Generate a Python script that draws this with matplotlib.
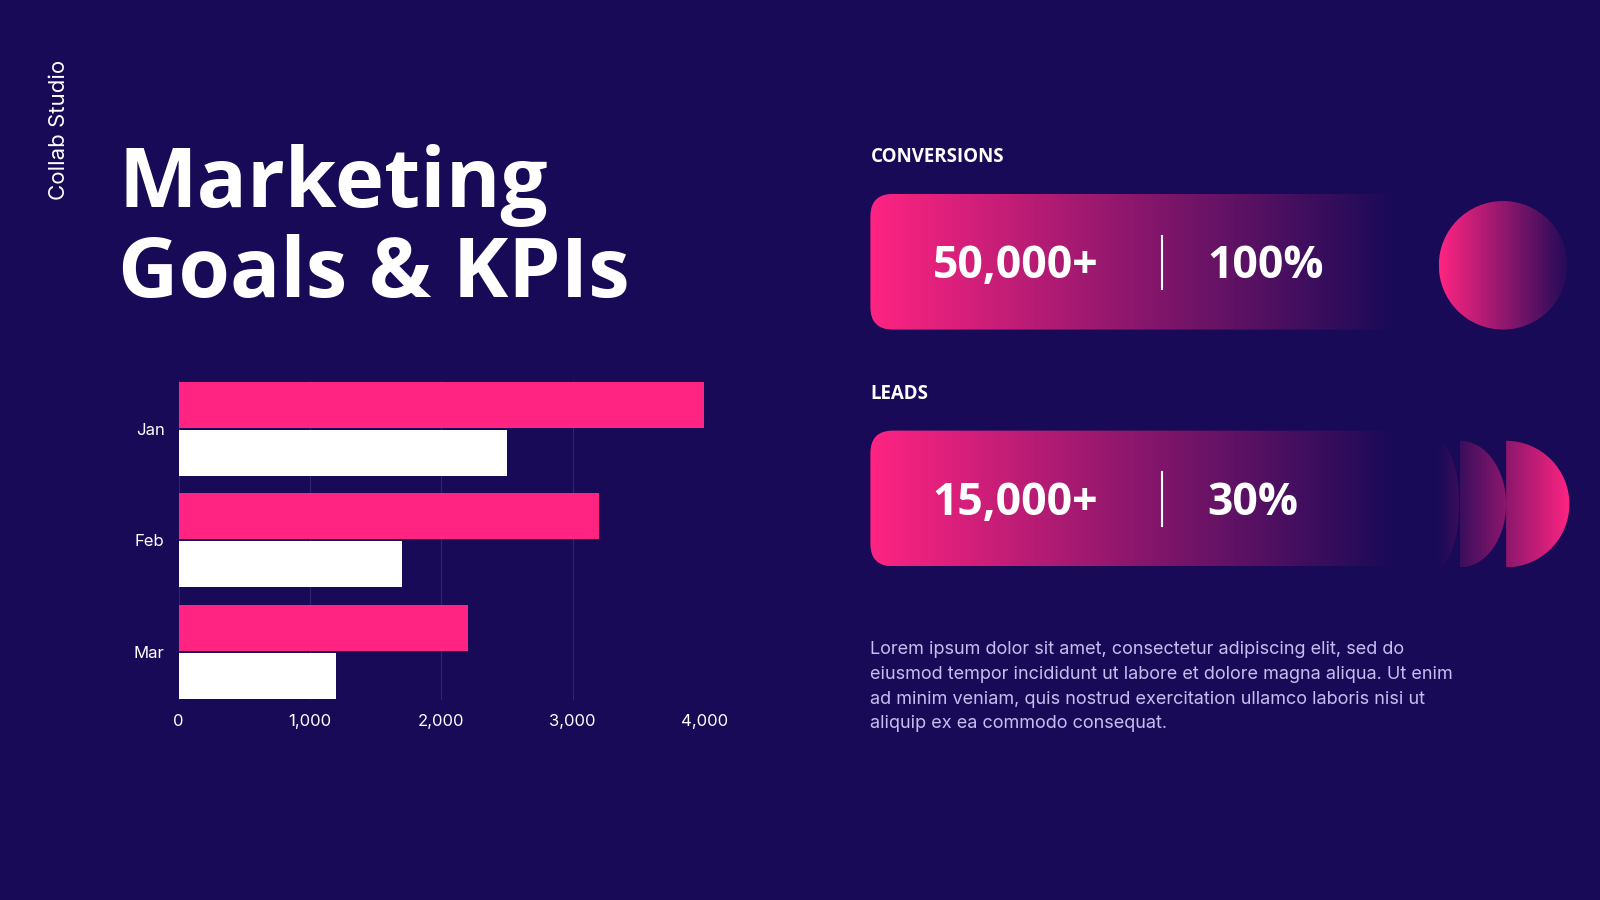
import matplotlib.pyplot as plt
import numpy as np
from matplotlib.patches import FancyBboxPatch, Circle, Wedge, Ellipse

BG = '#180a57'
PINK = '#ff2482'

months = ['Jan', 'Feb', 'Mar']
goal = [4000, 3200, 2200]
actual = [2500, 1700, 1200]
ticks = [0, 1000, 2000, 3000, 4000]
tick_labels = ['0', '1,000', '2,000', '3,000', '4,000']

kpi_titles = ['CONVERSIONS', 'LEADS']
kpi_values = ['50,000+', '15,000+']
kpi_pcts = ['100%', '30%']

body = ("Lorem ipsum dolor sit amet, consectetur adipiscing elit, sed do\n"
        "eiusmod tempor incididunt ut labore et dolore magna aliqua. Ut enim\n"
        "ad minim veniam, quis nostrud exercitation ullamco laboris nisi ut\n"
        "aliquip ex ea commodo consequat.")

W, H = 1568, 882
fig = plt.figure(figsize=(16, 9), dpi=100, facecolor=BG)
bg = fig.add_axes([0, 0, 1, 1])
bg.set_xlim(0, W)
bg.set_ylim(H, 0)
bg.axis('off')
bg.set_facecolor(BG)

pink = np.array([1.0, 0x24 / 255, 0x82 / 255])
base = np.array([0x18, 0x0a, 0x57]) / 255


def grad(x0, x1, y0, y1, start, stop, clip):
    # horizontal gradient, pink weight from start to stop
    t = np.linspace(start, stop, 256)
    img = (t[:, None] * pink + (1 - t[:, None]) * base)[None, :, :]
    im = bg.imshow(img, extent=[x0, x1, y1, y0], aspect='auto', zorder=2,
                   interpolation='bilinear')
    im.set_clip_path(clip)


bg.text(58, 127, 'Collab Studio', rotation=90, color='white', fontsize=16,
        family='Inter', ha='center', va='center')
bg.text(116, 182, 'Marketing', color='white', fontsize=60, family='Open Sans',
        weight='bold', va='center')
bg.text(116, 270, 'Goals & KPIs', color='white', fontsize=60, family='Open Sans',
        weight='bold', va='center')

for i, (t, v, p) in enumerate(zip(kpi_titles, kpi_values, kpi_pcts)):
    yo = i * 232
    bg.text(853, 154 + yo, t, color='white', fontsize=13.5, family='Open Sans',
            weight='bold', va='center')
    box = FancyBboxPatch((853, 190 + yo), 540, 133, boxstyle='round,pad=0,rounding_size=22',
                         fc='none', ec='none', transform=bg.transData)
    bg.add_patch(box)
    grad(853, 1370, 190 + yo, 323 + yo, 1.0, 0.0, box)
    bg.plot([1139, 1139], [231 + yo, 283 + yo], color='white', lw=1.5, zorder=3)
    bg.text(995, 261 + yo, v, color='white', fontsize=32, family='Open Sans',
            weight='bold', ha='center', va='center', zorder=4)
    bg.text(1183, 261 + yo, p, color='white', fontsize=32, family='Open Sans',
            weight='bold', ha='left', va='center', zorder=4)

# decorative circle
c = Circle((1473, 260), 63, fc='none', ec='none', transform=bg.transData)
bg.add_patch(c)
grad(1410, 1536, 197, 323, 1.0, 0.05, c)

# half discs
for fx, r, s0, s1 in [(1476, 62, 0.5, 1.0), (1431, 45, 0.15, 0.5), (1408, 22, 0.0, 0.15)]:
    if r < 62:
        w = Ellipse((fx, 494), 2 * r, 124, fc='none', ec='none', transform=bg.transData)
    else:
        w = Wedge((fx, 494), 62, -90, 90, fc='none', ec='none', transform=bg.transData)
    bg.add_patch(w)
    grad(fx, fx + r, 432, 556, s0, s1, w)

bg.text(853, 673, body, color='#c8bdf0', fontsize=13, family='Inter',
        va='center', linespacing=1.6)

# bar chart
ax = fig.add_axes([175 / W, 1 - 686 / H, (690 - 175) / W, (686 - 373) / H])
ax.set_facecolor('none')
y = np.arange(len(months))
h = 0.41
ax.barh(y - h / 2 - 0.01, goal, height=h, color=PINK, zorder=3)
ax.barh(y + h / 2 + 0.01, actual, height=h, color='white', zorder=3)
ax.set_ylim(2 + h + 0.02, -h - 0.02)
ax.set_xlim(0, 4000)
ax.set_yticks(y, months)
ax.set_xticks(ticks, tick_labels)
ax.grid(axis='x', color='#32246f', lw=0.8, zorder=0)
for s in ax.spines.values():
    s.set_visible(False)
ax.tick_params(length=0, colors='white', labelsize=12, pad=10)
for lab in ax.get_xticklabels() + ax.get_yticklabels():
    lab.set_family('Inter')

fig.savefig('out.png', dpi=100, facecolor=BG)
